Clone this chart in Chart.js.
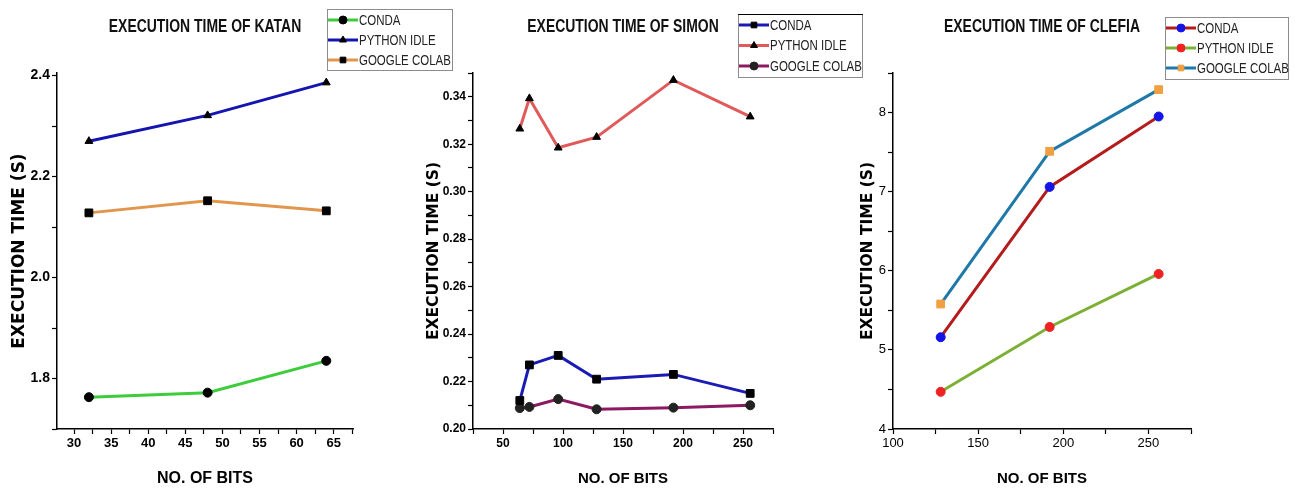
<!DOCTYPE html>
<html>
<head>
<meta charset="utf-8">
<title>Execution time</title>
<script src="https://cdn.jsdelivr.net/npm/chart.js@4.4.0/dist/chart.umd.min.js"></script>
<style>
  body { margin: 0; background: #fff; width: 1301px; height: 489px; position: relative; overflow: hidden; }
  canvas { position: absolute; top: 0; display: block; }
</style>
</head>
<body>
<canvas id="katan" width="460" height="489" style="left:0px"></canvas>
<canvas id="simon" width="450" height="489" style="left:420px"></canvas>
<canvas id="clefia" width="451" height="489" style="left:850px"></canvas>
<script>
// values
const seriesNames = ["CONDA", "PYTHON IDLE", "GOOGLE COLAB"];

const katanBits = [32, 48, 64];
const katanConda = [1.763, 1.772, 1.835];
const katanIdle = [2.27, 2.321, 2.386];
const katanColab = [2.128, 2.152, 2.132];
const katanXTicks = [30, 35, 40, 45, 50, 55, 60, 65];
const katanYTicks = [1.8, 2.0, 2.2, 2.4];

const simonBits = [64, 72, 96, 128, 192, 256];
const simonConda = [0.212, 0.227, 0.231, 0.221, 0.223, 0.215];
const simonIdle = [0.3265, 0.3393, 0.3185, 0.323, 0.347, 0.3316];
const simonColab = [0.2088, 0.2093, 0.2126, 0.2083, 0.209, 0.21];
const simonXTicks = [50, 100, 150, 200, 250];
const simonYTicks = [0.2, 0.22, 0.24, 0.26, 0.28, 0.3, 0.32, 0.34];

const clefiaBits = [128, 192, 256];
const clefiaConda = [5.16, 7.06, 7.95];
const clefiaIdle = [4.47, 5.29, 5.96];
const clefiaColab = [5.58, 7.51, 8.29];
const clefiaXTicks = [100, 150, 200, 250];
const clefiaYTicks = [4, 5, 6, 7, 8];

const SANS = "'Liberation Sans', Arial, sans-serif";
Chart.defaults.font.family = SANS;
Chart.defaults.color = "#000";

// no narrow font installed, so squeeze Liberation Sans horizontally (that is what Arial Narrow is)
function narrowText(ctx, text, x, y, align, sx) {
  ctx.save();
  ctx.translate(x, y);
  ctx.scale(sx, 1);
  ctx.textAlign = align;
  ctx.fillText(text, 0, 0);
  ctx.restore();
}

// title + boxed legend drawn by hand so they can sit where the original has them
const panelDeco = {
  id: "panelDeco",
  afterDraw(chart, args, opts) {
    const ctx = chart.ctx;
    const area = chart.chartArea;
    ctx.save();
    ctx.fillStyle = "#111";
    ctx.textBaseline = "middle";
    ctx.font = "bold 18px " + SANS;
    narrowText(ctx, opts.title, (area.left + area.right) / 2, opts.titleY, "center", 0.775);

    const lg = opts.legend;
    ctx.strokeStyle = "#8c8c8c";
    ctx.lineWidth = 1;
    ctx.strokeRect(lg.x + 0.5, lg.y + 0.5, lg.w, lg.h);
    if (lg.topColor) {
      ctx.strokeStyle = lg.topColor;
      ctx.beginPath();
      ctx.moveTo(lg.x, lg.y + 0.5);
      ctx.lineTo(lg.x + lg.w + 1, lg.y + 0.5);
      ctx.stroke();
    }
    ctx.font = "14px " + SANS;
    chart.data.datasets.forEach((ds, i) => {
      const cy = lg.y + lg.first + i * lg.gap;
      ctx.strokeStyle = ds.borderColor;
      ctx.lineWidth = 3;
      ctx.beginPath();
      ctx.moveTo(lg.x + 1, cy);
      ctx.lineTo(lg.x + 31, cy);
      ctx.stroke();
      ctx.fillStyle = ds.pointBackgroundColor;
      ctx.strokeStyle = ds.pointBorderColor;
      ctx.lineWidth = 1;
      Chart.helpers.drawPoint(ctx, { pointStyle: ds.pointStyle, radius: 4, rotation: 0, borderWidth: 1 }, lg.x + 16, cy);
      ctx.fillStyle = "#222";
      narrowText(ctx, ds.label, lg.x + 32, cy + 1, "left", 0.82);
    });
    ctx.restore();
  }
};

function halfSteps(majors, min, max) {
  return function (scale) {
    const step = (majors[1] - majors[0]) / 2;
    let v = majors[0];
    while (v - step >= min - 1e-9) v -= step;
    const out = [];
    for (; v <= max + 1e-9; v += step) out.push({ value: +v.toFixed(6) });
    scale.ticks = out;
  };
}

function axis(p) {
  return {
    type: "linear",
    min: p.min,
    max: p.max,
    afterBuildTicks: halfSteps(p.majors, p.min, p.max),
    afterFit: p.fit,
    border: { display: true, color: "#000", width: 1.5 },
    grid: { drawOnChartArea: false, drawTicks: true, tickLength: 5, tickColor: "#000", tickWidth: 1.2 },
    ticks: {
      autoSkip: false,
      maxRotation: 0,
      padding: 2,
      font: p.tickFont,
      color: "#000",
      callback: (value) => p.majors.some(m => Math.abs(m - value) < 1e-9) ? p.fmt(value) : ""
    },
    title: { display: true, text: p.title, font: p.titleFont, color: "#000", padding: p.titlePad }
  };
}

function series(name, xs, ys, line, style, fill) {
  return {
    label: name,
    data: xs.map((x, i) => ({ x: x, y: ys[i] })),
    borderColor: line,
    borderWidth: 3,
    tension: 0,
    pointStyle: style,
    pointRadius: style === "rect" ? 5.5 : 4.5,
    pointBackgroundColor: fill,
    pointBorderColor: fill,
    pointBorderWidth: 1
  };
}

function makePanel(id, p) {
  const canvas = document.getElementById(id);
  const W = canvas.width;
  return new Chart(canvas, {
    type: "line",
    data: { datasets: p.datasets },
    options: {
      responsive: false,
      animation: false,
      layout: { padding: { top: 73, right: W - p.right, left: 0, bottom: 0 } },
      plugins: {
        legend: { display: false },
        tooltip: { enabled: false },
        panelDeco: { title: p.title, titleY: 27, legend: p.legend }
      },
      scales: {
        x: axis({
          min: p.xMin, max: p.xMax, majors: p.xTicks, fmt: v => String(v),
          tickFont: p.xTickFont, title: "NO. OF BITS",
          titleFont: { size: p.xTitleSize, weight: "bold" },
          titlePad: { top: 0, bottom: 1 },
          fit: s => { s.height = 60; }
        }),
        y: axis({
          min: p.yMin, max: p.yMax, majors: p.yTicks, fmt: p.yFmt,
          tickFont: p.yTickFont, title: "EXECUTION TIME (S)",
          titleFont: { size: p.yTitleSize, weight: "bold", family: "'DejaVu Sans', sans-serif" },
          titlePad: { top: p.yTitlePad, bottom: 0 },
          fit: s => { s.width = p.left; }
        })
      }
    },
    plugins: [panelDeco]
  });
}

makePanel("katan", {
  title: "EXECUTION TIME OF KATAN",
  left: 57, right: 353,
  xMin: 27.7, xMax: 67.6, xTicks: katanXTicks,
  yMin: 1.7, yMax: 2.405, yTicks: katanYTicks, yFmt: v => v.toFixed(1),
  xTickFont: { size: 13, weight: "bold" }, yTickFont: { size: 14, weight: "bold" },
  xTitleSize: 16, yTitleSize: 17, yTitlePad: 9,
  legend: { x: 327, y: 9, w: 125, h: 61, first: 11, gap: 20 },
  datasets: [
    series(seriesNames[0], katanBits, katanConda, "#3ccc3c", "circle", "#000"),
    series(seriesNames[1], katanBits, katanIdle, "#1414b0", "triangle", "#000"),
    series(seriesNames[2], katanBits, katanColab, "#e0964c", "rect", "#000")
  ]
});

makePanel("simon", {
  title: "EXECUTION TIME OF SIMON",
  left: 53, right: 353,
  xMin: 25, xMax: 275, xTicks: simonXTicks,
  yMin: 0.2, yMax: 0.35, yTicks: simonYTicks, yFmt: v => v.toFixed(2),
  xTickFont: { size: 12, weight: "bold" }, yTickFont: { size: 12, weight: "bold" },
  xTitleSize: 15, yTitleSize: 15.5, yTitlePad: 5,
  legend: { x: 318, y: 14, w: 124, h: 63, first: 11, gap: 20.5, topColor: "#000" },
  datasets: [
    series(seriesNames[0], simonBits, simonConda, "#1a1ab4", "rect", "#000"),
    series(seriesNames[1], simonBits, simonIdle, "#e05a5a", "triangle", "#000"),
    series(seriesNames[2], simonBits, simonColab, "#8c1a62", "circle", "#222")
  ]
});

makePanel("clefia", {
  title: "EXECUTION TIME OF CLEFIA",
  left: 43, right: 341,
  xMin: 100, xMax: 275, xTicks: clefiaXTicks,
  yMin: 4, yMax: 8.5, yTicks: clefiaYTicks, yFmt: v => String(v),
  xTickFont: { size: 13 }, yTickFont: { size: 13 },
  xTitleSize: 15, yTitleSize: 15.5, yTitlePad: 9,
  legend: { x: 315, y: 17, w: 123, h: 62, first: 11, gap: 20 },
  datasets: [
    series(seriesNames[0], clefiaBits, clefiaConda, "#b41c1c", "circle", "#1414e6"),
    series(seriesNames[1], clefiaBits, clefiaIdle, "#7cb034", "circle", "#ee2222"),
    series(seriesNames[2], clefiaBits, clefiaColab, "#1e78a8", "rect", "#f0a040")
  ]
});
</script>
</body>
</html>
